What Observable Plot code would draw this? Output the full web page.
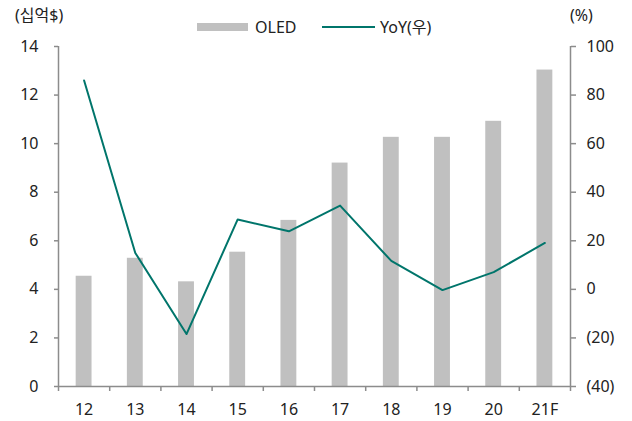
<!DOCTYPE html>
<html><head><meta charset="utf-8">
<script src="https://cdn.jsdelivr.net/npm/d3@7"></script>
<script src="https://cdn.jsdelivr.net/npm/@observablehq/plot@0.6"></script>
<style>
body{margin:0;background:#fff;}
#wrap{position:relative;width:632px;height:421px;font-family:"Noto Sans","Noto Sans CJK KR",sans-serif;color:#222;}
.lbl{position:absolute;font-size:16px;line-height:20px;white-space:nowrap;}
#wrap svg{position:absolute;left:0;top:0;}
</style></head><body><div id="wrap"></div>
<script>
const categories = ["12","13","14","15","16","17","18","19","20","21F"];
const oled = [4.54,5.28,4.31,5.53,6.84,9.2,10.26,10.26,10.92,13.03];
const yoy = [86,15,-18.4,28.8,23.9,34.5,11.7,-0.3,7.1,19.1];
const leftTicks = [0,2,4,6,8,10,12,14];
const rightTicks = [-40,-20,0,20,40,60,80,100];

const data = categories.map((c,i)=>({c, i, oled: oled[i], yoy: yoy[i]}));
const toLeft = v => (v + 40) / 10;
const fmtR = v => v < 0 ? `(${-v})` : `${v}`;
const half = 0.155;
const axisColor = "#8c8c8c";
const teal = "#00756b";

const chart = Plot.plot({
  width: 632, height: 421,
  marginLeft: 58, marginRight: 62, marginTop: 46, marginBottom: 35,
  style: {fontFamily: '"Noto Sans","Noto Sans CJK KR",sans-serif', fontSize: "16px", color: "#222", background: "#fff"},
  x: {type: "linear", domain: [0, categories.length]},
  y: {domain: [0, 14]},
  marks: [
    Plot.rectY(data, {x1: d => d.i + 0.5 - half, x2: d => d.i + 0.5 + half, y1: 0, y2: "oled", fill: "#c0c0c0"}),
    Plot.lineY(data, {x: d => d.i + 0.5, y: d => toLeft(d.yoy), stroke: teal, strokeWidth: 2}),
    Plot.ruleX([0, categories.length], {y1: 0, y2: 14, stroke: axisColor, strokeWidth: 1.5}),
    Plot.ruleY([0], {stroke: axisColor, strokeWidth: 1.5}),
    Plot.axisY({anchor: "left", ticks: leftTicks, tickSize: 4, tickPadding: 16, label: null, stroke: axisColor, strokeWidth: 1.5}),
    Plot.axisY({anchor: "right", ticks: rightTicks.map(toLeft), tickFormat: d => fmtR(Math.round(d * 10 - 40)), tickSize: 5, tickPadding: 11, label: null, stroke: axisColor, strokeWidth: 1.5}),
    Plot.axisX({ticks: d3.range(categories.length + 1), tickFormat: () => "", tickSize: 5, label: null, stroke: axisColor, strokeWidth: 1.5}),
    Plot.axisX({ticks: categories.map((c,i)=>i+0.5), tickFormat: d => categories[Math.round(d - 0.5)], tickSize: 0, tickPadding: 17, label: null})
  ]
});
const wrap = document.getElementById("wrap");
wrap.appendChild(chart);

function lbl(text, left, top){
  const d = document.createElement("div");
  d.className = "lbl"; d.textContent = text;
  d.style.left = left + "px"; d.style.top = top + "px";
  wrap.appendChild(d);
}
function swatch(left, top, w, h, color){
  const d = document.createElement("div");
  d.style.cssText = `position:absolute;left:${left}px;top:${top}px;width:${w}px;height:${h}px;background:${color};`;
  wrap.appendChild(d);
}
lbl("(십억$)", 15, 5);
lbl("(%)", 570, 5);
swatch(197, 23, 51, 8, "#c0c0c0");
lbl("OLED", 255, 17);
swatch(322, 26, 53, 2, teal);
lbl("YoY(우)", 380, 17);
</script>
</body></html>
